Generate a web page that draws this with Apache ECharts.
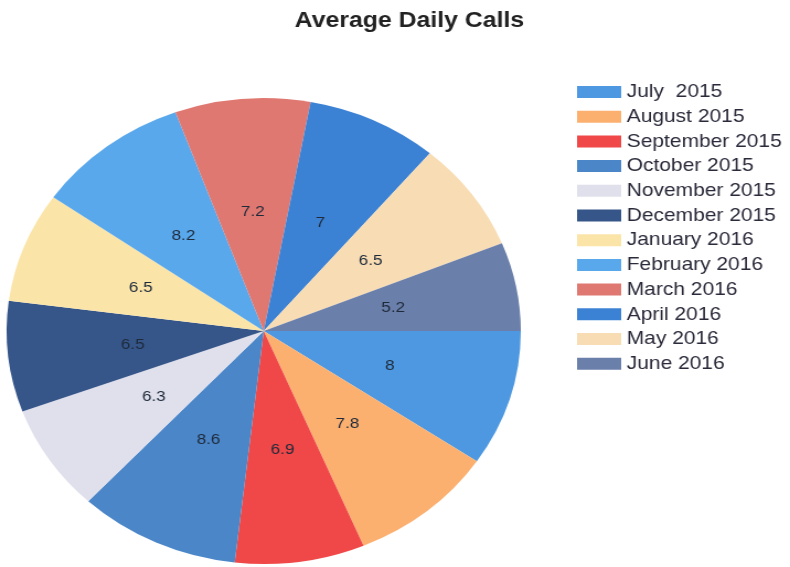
<!DOCTYPE html>
<html>
<head>
<meta charset="utf-8">
<script src="https://cdn.jsdelivr.net/npm/echarts@6/dist/echarts.min.js"></script>
<style>
  html, body { margin: 0; padding: 0; background: #fff; overflow: hidden; }
  #wrap { width: 790px; height: 567px; position: relative; }
  /* the reference is a horizontally stretched picture, so stretch the canvas the same way */
  #chart { width: 716px; height: 567px; transform: scaleX(1.1034); transform-origin: 0 0; }
</style>
</head>
<body>
<div id="wrap"><div id="chart"></div></div>
<script>
const months = ['July  2015', 'August 2015', 'September 2015', 'October 2015', 'November 2015',
  'December 2015', 'January 2016', 'February 2016', 'March 2016', 'April 2016', 'May 2016', 'June 2016'];
const calls = [8, 7.8, 6.9, 8.6, 6.3, 6.5, 6.5, 8.2, 7.2, 7, 6.5, 5.2];
const colors = ['#4d98e0', '#fbb070', '#f04848', '#4a86c8', '#e0e0ec', '#36568a',
  '#fbe4a8', '#5aa8ec', '#e07872', '#3c82d4', '#f8dcb4', '#6b7fab'];

const myChart = echarts.init(document.getElementById('chart'));
myChart.setOption({
  animation: false,
  color: colors,
  title: {
    text: 'Average Daily Calls',
    left: 366,
    top: 4,
    textAlign: 'center',
    textStyle: { fontFamily: 'Liberation Sans', fontSize: 22.5, fontWeight: 'bold', color: '#222' }
  },
  legend: {
    orient: 'vertical',
    left: 523,
    top: 82,
    padding: 0,
    itemWidth: 40,
    itemHeight: 12,
    itemGap: 4.7,
    icon: 'rect',
    textStyle: { fontFamily: 'Liberation Sans', fontSize: 19, lineHeight: 20, color: '#2a2a3a' },
    data: months
  },
  series: [{
    type: 'pie',
    center: [239, 331],
    radius: 233,
    startAngle: 0,
    clockwise: true,
    label: {
      position: 'inside',
      formatter: '{c}',
      fontFamily: 'Liberation Sans',
      fontSize: 15.5,
      color: '#1e2a3a'
    },
    labelLine: { show: false },
    emphasis: { disabled: true },
    data: months.map((m, i) => ({ name: m, value: calls[i] }))
  }]
});
</script>
</body>
</html>
